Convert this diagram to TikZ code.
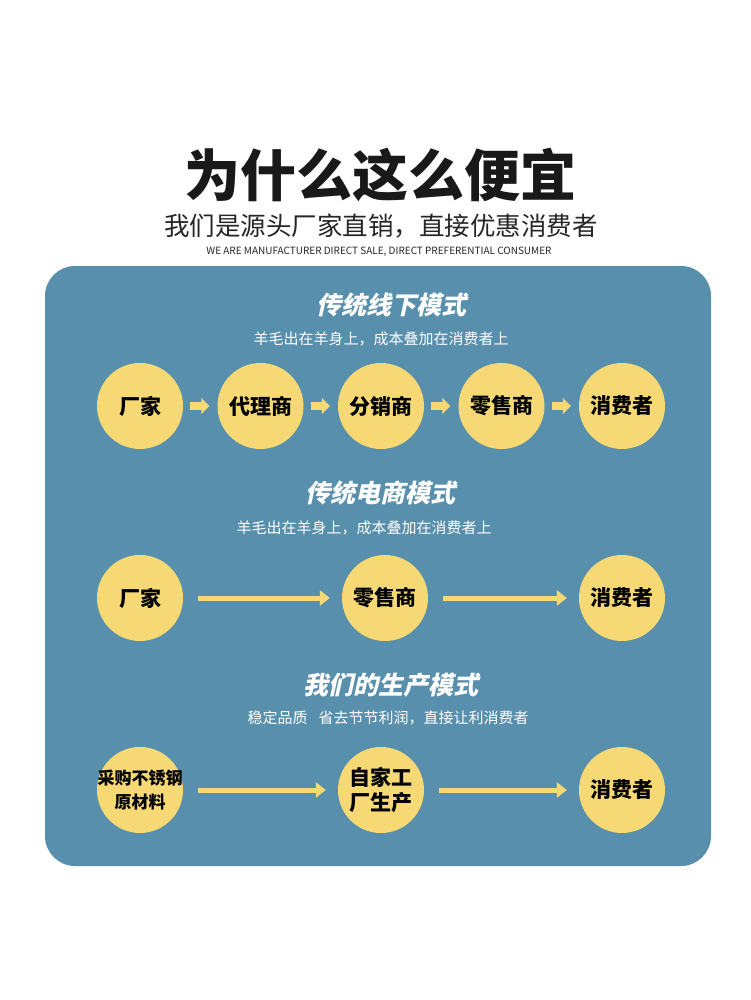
\documentclass[tikz,border=0pt]{standalone}
\usepackage{fontspec}
\setmainfont{Noto Sans CJK SC}
\newfontfamily\slantcjk{Noto Sans CJK SC}[FakeSlant=0.22]
\usetikzlibrary{arrows.meta}
\definecolor{panelblue}{RGB}{88,143,172}
\definecolor{dotyellow}{RGB}{246,217,117}

\begin{document}
\begin{tikzpicture}[x=1pt, y=-1pt, every node/.style={inner sep=0pt},
	stage/.style={circle, fill=dotyellow, minimum size=86pt, align=center, font=\bfseries\fontsize{21}{25}\selectfont},
	modeltitle/.style={text=white, font=\slantcjk\bfseries\fontsize{25}{27}\selectfont},
	modelnote/.style={text=white, font=\fontsize{15}{17}\selectfont},
	shortarr/.style={dotyellow, line width=8pt, -{Triangle[length=8pt,width=16pt]}, shorten <=7pt, shorten >=8pt},
	longarr/.style={dotyellow, line width=5pt, -{Triangle[length=10pt,width=15pt]}, shorten <=15pt, shorten >=12pt}]
	\useasboundingbox[fill=white] (0,0) rectangle (750,1000);
	% heading
	\node[font=\bfseries\fontsize{56}{60}\selectfont, text=black!90] (head) at (380,175) {为什么这么便宜};
	\node[font=\fontsize{25.5}{28}\selectfont, text=black!85] (sub) at (381,226) {我们是源头厂家直销，直接优惠消费者};
	\node[font=\fontsize{10}{12}\selectfont, text=black!85] (eng) at (379,252) {WE ARE MANUFACTURER DIRECT SALE, DIRECT PREFERENTIAL CONSUMER};
	\fill[panelblue, rounded corners=30pt] (45,266) rectangle (711,866);
	% offline model
	\node[modeltitle] (t1) at (391,305) {传统线下模式};
	\node[modelnote] (n1) at (381,339) {羊毛出在羊身上，成本叠加在消费者上};
	\foreach \lbl [count=\i] in {厂家,代理商,分销商,零售商,消费者}
		\node[stage] (a\i) at ({140+120.5*(\i-1)},406) {\lbl};
	\foreach \i/\j in {1/2,2/3,3/4,4/5} \draw[shortarr] (a\i) -- (a\j);
	% e-commerce model
	\node[modeltitle] (t2) at (380,493) {传统电商模式};
	\node[modelnote] (n2) at (364,528) {羊毛出在羊身上，成本叠加在消费者上};
	\node[stage] (b1) at (140,598) {厂家};
	\node[stage] (b2) at (385,598) {零售商};
	\node[stage] (b3) at (622,598) {消费者};
	\draw[longarr] (b1) -- (b2);
	\draw[longarr] (b2) -- (b3);
	% own model
	\node[modeltitle] (t3) at (391,685) {我们的生产模式};
	\node[modelnote] (n3) at (388,718) {稳定品质\hspace{11pt}省去节节利润，直接让利消费者};
	\node[stage, inner sep=-10pt, font=\bfseries\fontsize{17}{24}\selectfont] (c1) at (140,790) {采购不锈钢\\原材料};
	\node[stage] (c2) at (381,790) {自家工\\厂生产};
	\node[stage] (c3) at (622,790) {消费者};
	\draw[longarr] (c1) -- (c2);
	\draw[longarr] (c2) -- (c3);
\end{tikzpicture}
\end{document}
